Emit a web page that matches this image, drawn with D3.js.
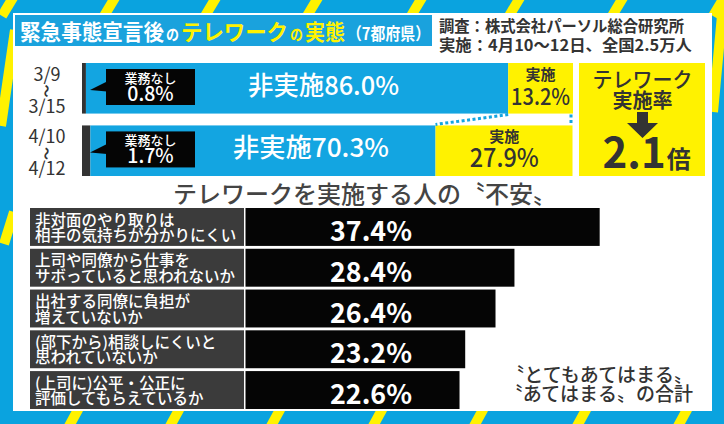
<!DOCTYPE html>
<html><head><meta charset="utf-8">
<script src="https://cdn.jsdelivr.net/npm/d3@7"></script>
<style>
body{margin:0;background:#fff}
svg{display:block}
text{font-family:"Noto Sans CJK JP","Noto Sans",sans-serif}
</style>
</head><body>
<svg id="c" width="724" height="424"></svg>
<script>
// ---------- DATA ----------
const periods = ["3/9〜3/15", "4/10〜4/12"];
const periodStart = ["3/9", "4/10"];
const periodEnd = ["3/15", "4/12"];
const noWork = [0.8, 1.7];        // 業務なし
const notImpl = [86.0, 70.3];     // 非実施
const impl = [13.2, 27.9];        // 実施
const ratioValue = "2.1";

const worryLabels = [
  ["非対面のやり取りは", "相手の気持ちが分かりにくい"],
  ["上司や同僚から仕事を", "サボっていると思われないか"],
  ["出社する同僚に負担が", "増えていないか"],
  ["(部下から)相談しにくいと", "思われていないか"],
  ["(上司に)公平・公正に", "評価してもらえているか"]
];
const worryValues = [37.4, 28.4, 26.4, 23.2, 22.6];

// ---------- COLORS ----------
const BLUE = "#0aa3df", BAR_BLUE = "#13a5e1", YELLOW = "#fff200", DARK = "#333",
      LABEL_BG = "#3b3b3b", BLACK = "#050505";

const svg = d3.select("#c");

// ---------- BACKGROUND ----------
svg.append("rect").attr("width", 724).attr("height", 424).attr("fill", BLUE);
const deco = svg.append("g").attr("stroke", YELLOW).attr("stroke-width", 10).attr("stroke-linecap", "butt");
[5, 107, 208, 310, 414, 512, 615, 716].forEach(x => {
  deco.append("line").attr("x1", x + 9).attr("y1", -4).attr("x2", x - 3).attr("y2", 16);
});
[72, 173, 274, 376, 477, 580, 681].forEach(x => {
  deco.append("line").attr("x1", x + 8).attr("y1", 406).attr("x2", x - 4).attr("y2", 428);
});
deco.append("line").attr("x1", 15).attr("y1", 30).attr("x2", 1).attr("y2", 126);
deco.append("line").attr("x1", 14).attr("y1", 212).attr("x2", 4).attr("y2", 244);
deco.append("line").attr("x1", 724).attr("y1", -6).attr("x2", 713).attr("y2", 112);

svg.append("rect").attr("x", 13).attr("y", 13).attr("width", 699).attr("height", 398).attr("fill", "#fff");

// ---------- TITLE ----------
svg.append("rect").attr("x", 15).attr("y", 15).attr("width", 417).attr("height", 31).attr("fill", "#1aa2dd");
const titleParts = [
  {t: "緊急事態宣言後", c: "#fff", s: 22, x: 20, w: 144},
  {t: "の", c: "#fff", s: 15, x: 166, w: 13},
  {t: "テレワーク", c: YELLOW, s: 22, x: 181, w: 107},
  {t: "の", c: YELLOW, s: 15, x: 290, w: 13},
  {t: "実態", c: YELLOW, s: 22, x: 305, w: 40},
  {t: "（7都府県）", c: "#fff", s: 17, x: 347, w: 83}
];
const titleT = svg.append("text").attr("y", 40).attr("font-weight", 700);
titleParts.forEach(p => {
  titleT.append("tspan").attr("x", p.x).attr("fill", p.c).attr("font-size", p.s)
    .attr("textLength", p.w).attr("lengthAdjust", "spacingAndGlyphs").text(p.t);
});
const subLines = ["調査：株式会社パーソル総合研究所", "実施：4月10～12日、全国2.5万人"];
const subW = [245, 253];
const subT = svg.append("text").attr("fill", DARK).attr("font-size", 15.5).attr("font-weight", 700);
subLines.forEach((s, i) => {
  subT.append("tspan").attr("x", 439).attr("y", 32 + i * 19)
    .attr("textLength", subW[i]).attr("lengthAdjust", "spacingAndGlyphs").text(s);
});

// ---------- TOP STACKED BARS ----------
const xTop = d3.scaleLinear().domain([0, 100]).range([82, 573]);
const yTop = d3.scaleBand().domain(periods).range([63, 176]).paddingInner(0.19);
const bh = yTop.bandwidth();

const topRows = periods.map((p, i) => ({
  p, i, y0: yTop(p),
  segs: [
    {v0: 0, v1: noWork[i], fill: "#333"},
    {v0: noWork[i], v1: noWork[i] + notImpl[i], fill: BAR_BLUE},
    {v0: noWork[i] + notImpl[i], v1: noWork[i] + notImpl[i] + impl[i], fill: YELLOW}
  ]
}));

const rowG = svg.selectAll("g.trow").data(topRows).join("g").attr("class", "trow");
rowG.selectAll("rect").data(d => d.segs.map(s => ({...s, y0: d.y0}))).join("rect")
  .attr("x", s => xTop(s.v0)).attr("width", s => xTop(s.v1) - xTop(s.v0))
  .attr("y", s => s.y0).attr("height", bh).attr("fill", s => s.fill);

// date labels (start / rotated tilde / end)
rowG.each(function(d) {
  const g = d3.select(this);
  const t = g.append("text").attr("text-anchor", "middle").attr("font-size", 18).attr("fill", DARK);
  t.append("tspan").attr("x", 47).attr("y", d.y0 + 18).text(periodStart[d.i]);
  t.append("tspan").attr("x", 47).attr("y", d.y0 + 50).text(periodEnd[d.i]);
});
rowG.append("text").attr("text-anchor", "middle").attr("dominant-baseline", "central")
  .attr("font-size", 13).attr("font-weight", 700).attr("fill", DARK)
  .attr("transform", d => `translate(47,${d.y0 + 28}) rotate(90)`).text("〜");

// callouts 業務なし
const tipX = 90, boxX0 = 106, boxX1 = 195;
rowG.append("path").attr("fill", BLACK)
  .attr("d", d => `M${tipX},${d.y0 + 27} L${boxX0 + 1},${d.y0 + 18.5} L${boxX0 + 1},${d.y0 + 28.5} Z`);
rowG.append("rect").attr("x", boxX0).attr("y", d => d.y0 + 6).attr("width", boxX1 - boxX0)
  .attr("height", 36).attr("fill", BLACK);
rowG.each(function(d) {
  const t = d3.select(this).append("text").attr("text-anchor", "middle")
    .attr("fill", "#fff").attr("font-weight", 500);
  t.append("tspan").attr("x", (boxX0 + boxX1) / 2).attr("y", d.y0 + 20).attr("font-size", 13).text("業務なし");
  t.append("tspan").attr("x", (boxX0 + boxX1) / 2).attr("y", d.y0 + 37.5).attr("font-size", 19.5)
    .text(d3.format(".1f")(noWork[d.i]) + "%");
});

// 非実施 labels
const mainLabelX = [248, 233], mainLabelW = [151, 156];
rowG.append("text").attr("x", d => mainLabelX[d.i]).attr("y", d => d.y0 + 32)
  .attr("fill", "#fff").attr("font-size", 26).attr("font-weight", 500)
  .attr("textLength", d => mainLabelW[d.i]).attr("lengthAdjust", "spacingAndGlyphs")
  .text(d => "非実施" + d3.format(".1f")(notImpl[d.i]) + "%");

// 実施 labels
const implW = [59, 69], implS = [23, 26];
rowG.each(function(d) {
  const cx = (xTop(noWork[d.i] + notImpl[d.i]) + xTop(100)) / 2;
  const t = d3.select(this).append("text").attr("text-anchor", "middle").attr("fill", DARK);
  t.append("tspan").attr("x", cx).attr("y", d.y0 + 17).attr("font-size", 15).attr("font-weight", 700).text("実施");
  t.append("tspan").attr("x", cx).attr("y", d.y0 + 42).attr("font-size", implS[d.i]).attr("font-weight", 500)
    .attr("textLength", implW[d.i]).attr("lengthAdjust", "spacingAndGlyphs")
    .text(d3.format(".1f")(impl[d.i]) + "%");
});

// dotted connectors
const r0 = topRows[0], r1 = topRows[1];
svg.append("line")
  .attr("x1", xTop(noWork[0] + notImpl[0])).attr("y1", r0.y0 + bh + 1)
  .attr("x2", xTop(noWork[1] + notImpl[1])).attr("y2", r1.y0 - 1)
  .attr("stroke", BAR_BLUE).attr("stroke-width", 3).attr("stroke-dasharray", "3,2.5");
svg.append("line")
  .attr("x1", xTop(100) - 2).attr("y1", r0.y0 + bh + 1)
  .attr("x2", xTop(100) - 2).attr("y2", r1.y0 - 1)
  .attr("stroke", BAR_BLUE).attr("stroke-width", 3).attr("stroke-dasharray", "3,2.5");

// ratio box
const rb = {x0: 579, x1: 705, y0: yTop.range()[0], y1: yTop.range()[1]};
const rcx = (rb.x0 + rb.x1) / 2 + 0.5;
svg.append("rect").attr("x", rb.x0).attr("y", rb.y0).attr("width", rb.x1 - rb.x0)
  .attr("height", rb.y1 - rb.y0).attr("fill", YELLOW);
const rbT = svg.append("text").attr("text-anchor", "middle").attr("fill", DARK);
rbT.append("tspan").attr("x", rcx).attr("y", rb.y0 + 24).attr("font-size", 21).attr("font-weight", 500)
  .attr("textLength", 100).attr("lengthAdjust", "spacingAndGlyphs").text("テレワーク");
rbT.append("tspan").attr("x", rcx).attr("y", rb.y0 + 45).attr("font-size", 20).attr("font-weight", 700).text("実施率");
svg.append("path").attr("fill", DARK)
  .attr("d", `M${rcx - 5.5},${rb.y0 + 49} h11 v11 h10 l-15.5,15 l-15.5,-15 h10 Z`);
const ratioT = svg.append("text").attr("x", rcx - 40).attr("y", rb.y0 + 105)
  .attr("fill", DARK).attr("font-weight", 700);
ratioT.append("tspan").attr("font-size", 42).text(ratioValue);
ratioT.append("tspan").attr("font-size", 24).attr("dx", 1).text("倍");

// ---------- BOTTOM SECTION ----------
svg.append("text").attr("x", 173).attr("y", 203)
  .attr("fill", "#444").attr("font-size", 24).attr("font-weight", 500)
  .attr("textLength", 384).attr("lengthAdjust", "spacingAndGlyphs")
  .text("テレワークを実施する人の〝不安〟");

const xBot = d3.scaleLinear().domain([0, 40]).range([245.5, 624.3]);
const yBot = d3.scaleBand().domain(d3.range(worryValues.length)).range([208, 409]).paddingInner(0.07);
const bb = yBot.bandwidth();

const bRows = svg.selectAll("g.brow").data(worryValues.map((v, i) => ({v, i})))
  .join("g").attr("class", "brow").attr("transform", d => `translate(0,${yBot(d.i)})`);
bRows.append("rect").attr("x", 30).attr("width", 214).attr("height", bb).attr("fill", LABEL_BG);
bRows.append("rect").attr("x", xBot(0)).attr("width", d => xBot(d.v) - xBot(0))
  .attr("height", bb).attr("fill", BLACK);
bRows.each(function(d) {
  const t = d3.select(this).append("text").attr("fill", "#fff")
    .attr("font-size", 15.5).attr("font-weight", 500);
  worryLabels[d.i].forEach((line, k) => {
    t.append("tspan").attr("x", 35).attr("y", 17.5 + k * 15.5).text(line);
  });
});
bRows.append("text").attr("x", 330).attr("y", 33).attr("fill", "#fff")
  .attr("font-size", 27).attr("font-weight", 700)
  .attr("textLength", 82).attr("lengthAdjust", "spacingAndGlyphs")
  .text(d => d3.format(".1f")(d.v) + "%");

// footnote
const notes = ["〝とてもあてはまる〟", "〝あてはまる〟の合計"];
const noteT = svg.append("text").attr("text-anchor", "end")
  .attr("fill", DARK).attr("font-size", 19).attr("font-weight", 500);
notes.forEach((n, i) => {
  noteT.append("tspan").attr("x", 693).attr("y", 382 + i * 19).text(n);
});
</script>
</body></html>
